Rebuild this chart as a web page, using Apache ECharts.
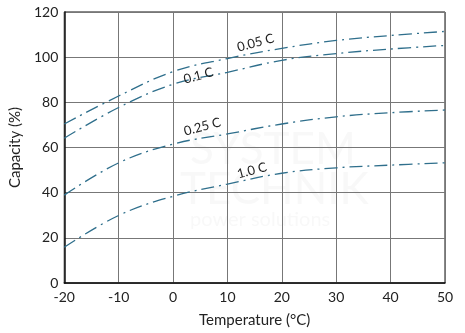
<!DOCTYPE html>
<html><head><meta charset="utf-8">
<script src="https://cdn.jsdelivr.net/npm/echarts@6/dist/echarts.min.js"></script>
<style>html,body{margin:0;padding:0;background:#fff}#c{width:465px;height:333px}</style>
</head><body><div id="c"></div>
<script>
const temps = [-20, -10, 0, 10, 20, 30, 40, 50];
const c005 = [70.4, 82.8, 93.6, 99.4, 103.9, 107.4, 109.6, 111.4];
const c01  = [64.1, 77.7, 88.0, 93.3, 98.6, 101.6, 103.6, 105.2];
const c025 = [38.9, 53.2, 61.5, 66.0, 70.4, 73.6, 75.4, 76.6];
const c10  = [15.8, 29.9, 38.4, 43.8, 48.6, 51.0, 52.2, 53.2];
const seriesNames = ['0.05 C', '0.1 C', '0.25 C', '1.0 C'];
const labelPos = [[15.2, 106.4], [4.7, 91.8], [5.4, 69.2], [14.5, 49.8]];
const xTicks = [-20, -10, 0, 10, 20, 30, 40, 50];
const yTicks = [0, 20, 40, 60, 80, 100, 120];

const font = 'Lato, "Noto Sans", sans-serif';
const chart = echarts.init(document.getElementById('c'));
const datas = [c005, c01, c025, c10];
const series = datas.map((d, i) => ({
  type: 'line',
  name: seriesNames[i],
  data: temps.map((t, j) => [t, d[j]]),
  smooth: 0.4,
  symbol: 'none',
  lineStyle: { color: '#2f6f8c', width: 1.3, type: [13, 5, 2, 5] },
  markPoint: {
    symbol: 'circle', symbolSize: 0,
    data: [{ coord: labelPos[i] }],
    label: { show: true, formatter: seriesNames[i], color: '#222', fontSize: 13, fontFamily: font, rotate: 15, position: 'inside' }
  }
}));
chart.setOption({
  animation: false,
  grid: { left: 62, right: 20, top: 12, bottom: 48, show: true, borderColor: '#111', borderWidth: 1 },
  xAxis: {
    type: 'value', min: -20, max: 50, interval: 10,
    name: 'Temperature (°C)', nameLocation: 'middle', nameGap: 30,
    nameTextStyle: { fontSize: 15, color: '#222', fontFamily: font },
    axisLine: { show: true, onZero: false, lineStyle: { color: '#111', width: 1.5 } },
    axisTick: { show: false },
    axisLabel: { fontSize: 14, color: '#222', fontFamily: font, margin: 7 },
    splitLine: { lineStyle: { color: '#777', width: 1 } }
  },
  yAxis: {
    type: 'value', min: 0, max: 120, interval: 20,
    name: 'Capacity (%)', nameLocation: 'middle', nameGap: 40,
    nameTextStyle: { fontSize: 15, color: '#222', fontFamily: font },
    axisLine: { show: true, onZero: false, lineStyle: { color: '#111', width: 1.5 } },
    axisTick: { show: false },
    axisLabel: { fontSize: 14, color: '#222', fontFamily: font, margin: 6 },
    splitLine: { lineStyle: { color: '#777', width: 1 } }
  },
  graphic: [
    { type: 'text', left: 190, top: 128, silent: true, z: -1,
      style: { text: 'SYSTEM', fontSize: 44, fill: 'rgba(200,200,200,0.13)', fontFamily: font, letterSpacing: 12 } },
    { type: 'text', left: 180, top: 168, silent: true, z: -1,
      style: { text: 'TECHNIK', fontSize: 44, fill: 'rgba(200,200,200,0.13)', fontFamily: font } },
    { type: 'text', left: 190, top: 210, silent: true, z: -1,
      style: { text: 'power solutions', fontSize: 20, fill: 'rgba(200,200,200,0.13)', fontFamily: font } }
  ],
  series: series
});
</script></body></html>
